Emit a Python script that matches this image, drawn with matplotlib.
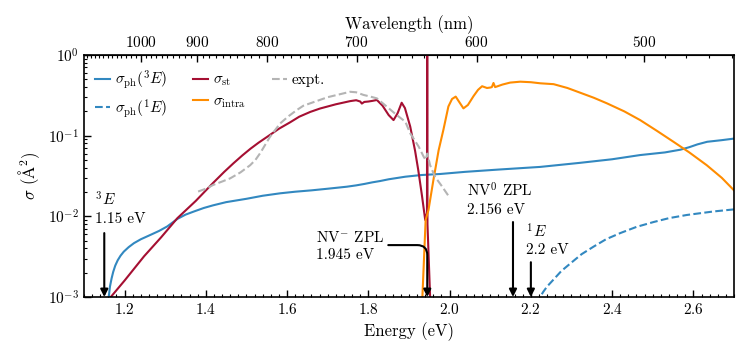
import matplotlib
matplotlib.use('Agg')
import matplotlib.pyplot as plt
from matplotlib.ticker import MultipleLocator, LogLocator, NullFormatter

plt.rcParams['font.family'] = 'serif'
plt.rcParams['font.serif'] = ['cmr10', 'DejaVu Serif']
plt.rcParams['mathtext.fontset'] = 'cm'
plt.rcParams['axes.formatter.use_mathtext'] = True
plt.rcParams['font.size'] = 11

# sigma_ph(3E), solid blue
ph3_E = [1.158, 1.161, 1.164, 1.168, 1.172, 1.177, 1.183, 1.19, 1.198, 1.21, 1.223, 1.24,
         1.264, 1.285, 1.305, 1.330, 1.35, 1.371, 1.395, 1.418, 1.45, 1.50, 1.54, 1.583,
         1.62, 1.66, 1.70, 1.747, 1.77, 1.79, 1.81, 1.829, 1.85, 1.891, 1.93, 1.977, 2.038,
         2.12, 2.223, 2.32, 2.40, 2.469, 2.53, 2.568, 2.59, 2.61, 2.634, 2.67, 2.70]
ph3_s = [5e-4, 1.0e-3, 1.35e-3, 1.7e-3, 2.05e-3, 2.45e-3, 2.85e-3, 3.25e-3, 3.65e-3, 4.15e-3,
         4.65e-3, 5.2e-3, 5.9e-3, 6.6e-3, 7.5e-3, 9.3e-3, 1.05e-2, 1.15e-2, 1.27e-2, 1.37e-2,
         1.5e-2, 1.65e-2, 1.8e-2, 1.93e-2, 2.02e-2, 2.1e-2, 2.2e-2, 2.33e-2, 2.42e-2, 2.52e-2,
         2.64e-2, 2.74e-2, 2.88e-2, 3.1e-2, 3.25e-2, 3.35e-2, 3.56e-2,
         3.8e-2, 4.1e-2, 4.6e-2, 5.1e-2, 5.75e-2, 6.2e-2, 6.7e-2, 7.2e-2, 7.8e-2, 8.4e-2,
         8.8e-2, 9.2e-2]

# sigma_ph(1E), dashed blue
ph1_E = [2.221, 2.223, 2.23, 2.24, 2.256, 2.275, 2.297, 2.325, 2.354, 2.385, 2.42, 2.46,
         2.502, 2.54, 2.584, 2.65, 2.70]
ph1_s = [8e-4, 1e-3, 1.15e-3, 1.35e-3, 1.65e-3, 2.1e-3, 2.6e-3, 3.4e-3, 4.2e-3, 5.2e-3,
         6.2e-3, 7.4e-3, 8.5e-3, 9.5e-3, 1.04e-2, 1.15e-2, 1.22e-2]

# sigma_st, red
st_E = [1.160, 1.166, 1.20, 1.248, 1.29, 1.33, 1.375, 1.418, 1.445, 1.468, 1.49, 1.51,
        1.53, 1.55, 1.58, 1.607, 1.63, 1.657, 1.681, 1.72, 1.755, 1.77, 1.78, 1.784, 1.79,
        1.80, 1.81, 1.821, 1.835, 1.85, 1.862, 1.872, 1.882, 1.89, 1.903, 1.915, 1.923,
        1.932, 1.940, 1.9443, 1.9449, 1.9455, 1.952, 1.96]
st_s = [7e-4, 1e-3, 1.6e-3, 3.2e-3, 5.5e-3, 9.5e-3, 1.55e-2, 2.6e-2, 3.55e-2, 4.55e-2, 5.7e-2,
        6.9e-2, 8.2e-2, 9.6e-2, 0.122, 0.146, 0.172, 0.197, 0.217, 0.245, 0.268, 0.275, 0.265,
        0.25, 0.262, 0.265, 0.27, 0.277, 0.235, 0.18, 0.156, 0.19, 0.256, 0.22, 0.13, 0.065,
        0.037, 0.018, 0.009, 0.011, 20.0, 0.008, 1e-3, 3e-4]

# sigma_intra, orange
intra_E = [1.930, 1.933, 1.937, 1.941, 1.948, 1.96, 1.973, 1.985, 1.997, 2.006, 2.015, 2.024,
           2.034, 2.045, 2.059, 2.07, 2.08, 2.092, 2.100, 2.104, 2.108, 2.112, 2.13, 2.149,
           2.174, 2.20, 2.223, 2.256, 2.29, 2.322, 2.355, 2.387, 2.43, 2.469, 2.51, 2.551,
           2.59, 2.633, 2.67, 2.70]
intra_s = [5e-4, 1e-3, 3e-3, 9e-3, 1.2e-2, 2.8e-2, 6.6e-2, 0.12, 0.23, 0.285, 0.305, 0.26,
           0.218, 0.24, 0.31, 0.37, 0.41, 0.39, 0.395, 0.40, 0.45, 0.40, 0.43, 0.455,
           0.467, 0.46, 0.446, 0.435, 0.39, 0.34, 0.295, 0.252, 0.20, 0.156, 0.115, 0.084,
           0.062, 0.043, 0.03, 0.021]

# experiment, grey dashed
expt_E = [1.381, 1.40, 1.418, 1.44, 1.46, 1.485, 1.509, 1.522, 1.534, 1.546, 1.558, 1.583,
          1.604, 1.624, 1.64, 1.657, 1.70, 1.755, 1.77, 1.788, 1.805, 1.821, 1.845, 1.87,
          1.891, 1.903, 1.924, 1.936, 1.941, 1.945, 1.952, 1.964, 1.98, 1.997]
expt_s = [0.0203, 0.022, 0.0245, 0.027, 0.0296, 0.035, 0.043, 0.05, 0.061, 0.077, 0.097, 0.142,
          0.175, 0.208, 0.235, 0.252, 0.30, 0.35, 0.345, 0.32, 0.305, 0.29, 0.23, 0.18,
          0.149, 0.107, 0.073, 0.055, 0.05, 0.06, 0.043, 0.031, 0.024, 0.018]

wl_ticks = [1000, 900, 800, 700, 600, 500]

BLUE = '#3288c0'
RED = '#a50f32'
ORANGE = '#ff8c00'
GREY = '#b4b4b4'


def add_arrow(ax, x, y0, text, tx, ty):
    ax.text(tx, ty, text, ha='left', va='bottom', fontsize=11, linespacing=1.3)
    ax.annotate('', xy=(x, 1e-3), xytext=(x, y0),
                arrowprops=dict(arrowstyle='-|>', color='k', lw=1.5, mutation_scale=11,
                                shrinkA=0, shrinkB=0))


fig = plt.figure(figsize=(7.47, 3.56), dpi=100)
ax = fig.add_axes([0.1124, 0.1657, 0.8702, 0.6798])

ax.plot(ph3_E, ph3_s, color=BLUE, lw=1.5, label=r'$\sigma_{\rm ph}(^3E)$')
ax.plot(ph1_E, ph1_s, color=BLUE, lw=1.5, ls='--', label=r'$\sigma_{\rm ph}(^1E)$')
ax.plot(st_E, st_s, color=RED, lw=1.5, label=r'$\sigma_{\rm st}$')
ax.plot(intra_E, intra_s, color=ORANGE, lw=1.5, label=r'$\sigma_{\rm intra}$')
ax.plot(expt_E, expt_s, color=GREY, lw=1.5, ls='--', label='expt.')

ax.set_yscale('log')
ax.set_xlim(1.1, 2.7)
ax.set_ylim(1e-3, 1)
ax.xaxis.set_major_locator(MultipleLocator(0.2))
ax.xaxis.set_minor_locator(MultipleLocator(0.02))
ax.yaxis.set_minor_locator(LogLocator(base=10, subs=range(2, 10)))
ax.yaxis.set_minor_formatter(NullFormatter())
ax.tick_params(which='both', direction='in', top=False, right=False, labelsize=11)
ax.tick_params(which='major', length=5, width=1)
ax.tick_params(which='minor', length=2.5, width=0.8)
for s in ax.spines.values():
    s.set_linewidth(1.2)

ax.set_xlabel('Energy (eV)', fontsize=12)
ax.set_ylabel(r'$\sigma$ ($\mathrm{\AA}^2$)', fontsize=12)

sec = ax.secondary_xaxis('top', functions=(lambda e: 1239.84 / e, lambda w: 1239.84 / w))
sec.set_xticks(wl_ticks)
sec.xaxis.set_minor_locator(MultipleLocator(10))
sec.tick_params(which='both', direction='in', labelsize=11)
sec.tick_params(which='major', length=5, width=1)
sec.tick_params(which='minor', length=2.5, width=0.8)
sec.set_xlabel('Wavelength (nm)', fontsize=12)

add_arrow(ax, 1.15, 6.2e-3, '$^3E$\n1.15 eV', 1.128, 7.6e-3)
add_arrow(ax, 2.156, 8.5e-3, 'NV$^0$ ZPL\n2.156 eV', 2.042, 9.8e-3)
add_arrow(ax, 2.2, 2.7e-3, '$^1E$\n2.2 eV', 2.187, 3.1e-3)

ax.text(1.672, 2.75e-3, 'NV$^{-}$ ZPL\n1.945 eV', ha='left', va='bottom', fontsize=11, linespacing=1.3)
ax.annotate('', xy=(1.945, 1e-3), xytext=(1.849, 4.4e-3),
            arrowprops=dict(arrowstyle='-|>', color='k', lw=1.5, mutation_scale=11,
                            shrinkA=0, shrinkB=0,
                            connectionstyle='angle,angleA=0,angleB=90,rad=10'))

ax.legend(loc='upper left', ncol=3, frameon=False, fontsize=11, handlelength=1.0,
          handletextpad=0.3, columnspacing=1.7, labelspacing=0.4,
          borderaxespad=0.3, bbox_to_anchor=(0.0, 0.99))

fig.savefig('out.png', dpi=100)
